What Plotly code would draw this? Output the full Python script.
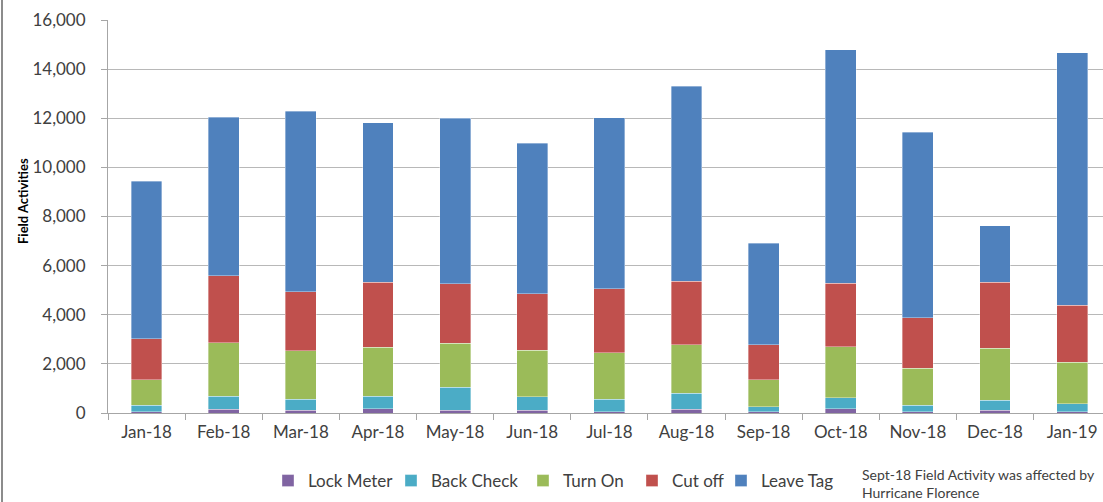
import plotly.graph_objects as go

months = ["Jan-18", "Feb-18", "Mar-18", "Apr-18", "May-18", "Jun-18", "Jul-18",
          "Aug-18", "Sep-18", "Oct-18", "Nov-18", "Dec-18", "Jan-19"]

lock_meter = [60, 150, 110, 165, 110, 110, 60, 150, 60, 165, 60, 110, 60]
back_check = [250, 540, 460, 525, 935, 555, 510, 650, 200, 460, 250, 405, 320]
turn_on = [1045, 2170, 1970, 1985, 1795, 1900, 1885, 1970, 1095, 2075, 1520, 2130, 1695]
cut_off = [1660, 2730, 2400, 2645, 2425, 2295, 2595, 2590, 1415, 2580, 2050, 2675, 2310]
leave_tag = [6430, 6460, 7355, 6500, 6745, 6120, 6975, 7940, 4150, 9510, 7550, 2295, 10275]

y_ticks = [0, 2000, 4000, 6000, 8000, 10000, 12000, 14000, 16000]
y_tick_text = ["0", "2,000", "4,000", "6,000", "8,000", "10,000", "12,000", "14,000", "16,000"]

series = [
    ("Lock Meter", lock_meter, "#8064A2", "legend"),
    ("Back Check", back_check, "#4BACC6", "legend2"),
    ("Turn On", turn_on, "#9BBB59", "legend3"),
    ("Cut off", cut_off, "#C0504D", "legend4"),
    ("Leave Tag", leave_tag, "#4F81BD", "legend5"),
]

FONT = "Lato, 'Open Sans', Arial, sans-serif"
TXT = "#404040"

fig = go.Figure()
for name, vals, color, leg in series:
    fig.add_trace(go.Bar(
        x=months, y=vals, name=name,
        marker=dict(color=color, line=dict(color="rgba(255,255,255,0.45)", width=0.8)),
        legend=leg, showlegend=True,
    ))

W, H = 1103, 502
ml, mr, mt, mb = 108, 0, 20, 89
pw = W - ml - mr
ph = H - mt - mb

def px_x(p):
    return (p - ml) / pw

def px_y(p):
    return (H - mb - p) / ph

leg_text_starts = [308, 431, 563, 672, 761]
leg_common = dict(orientation="h", xanchor="left", yanchor="middle",
                  font=dict(family=FONT, size=17, color=TXT),
                  bgcolor="rgba(0,0,0,0)", borderwidth=0, traceorder="normal",
                  visible=True)
legends = {}
for i, xs in enumerate(leg_text_starts):
    key = "legend" if i == 0 else f"legend{i+1}"
    legends[key] = dict(x=px_x(xs - 40), y=px_y(481), **leg_common)

fig.update_layout(
    width=W, height=H,
    margin=dict(l=ml, r=mr, t=mt, b=mb, pad=0),
    barmode="stack",
    bargap=0.6,
    showlegend=True,
    plot_bgcolor="white",
    paper_bgcolor="white",
    font=dict(family=FONT, size=17, color=TXT),
    xaxis=dict(
        type="category",
        range=[-0.5, 12.4],
        showgrid=False,
        showline=True, linecolor="#a6a6a6", linewidth=1,
        ticks="outside", ticklen=6, tickcolor="#a6a6a6", tickson="boundaries",
        tickfont=dict(family=FONT, size=17, color=TXT),
        ticklabelstandoff=4,
    ),
    yaxis=dict(
        range=[0, 16000],
        tickvals=y_ticks, ticktext=y_tick_text,
        showgrid=True, gridcolor="#b8b8b8", gridwidth=1,
        showline=True, linecolor="#a6a6a6", linewidth=1,
        ticks="outside", ticklen=6, tickcolor="#a6a6a6",
        tickfont=dict(family=FONT, size=17, color=TXT),
        ticklabelstandoff=12,
        zeroline=False,
    ),
    annotations=[
        dict(text="<b>Field Activities</b>", textangle=-90,
             xref="paper", yref="paper", x=px_x(23), y=px_y(201),
             xanchor="center", yanchor="middle", showarrow=False,
             font=dict(family=FONT, size=13, color="black")),
        dict(text="Sept-18 Field Activity was affected by<br>Hurricane Florence",
             xref="paper", yref="paper", x=px_x(860), y=px_y(484),
             xanchor="left", yanchor="middle", align="left", showarrow=False,
             font=dict(family=FONT, size=14, color=TXT)),
    ],
    shapes=[
        dict(type="line", xref="paper", yref="paper",
             x0=px_x(2), x1=px_x(2), y0=px_y(H), y1=px_y(0),
             line=dict(color="#8c8c8c", width=2)),
    ],
    **legends,
)

fig.write_html("out.html")
